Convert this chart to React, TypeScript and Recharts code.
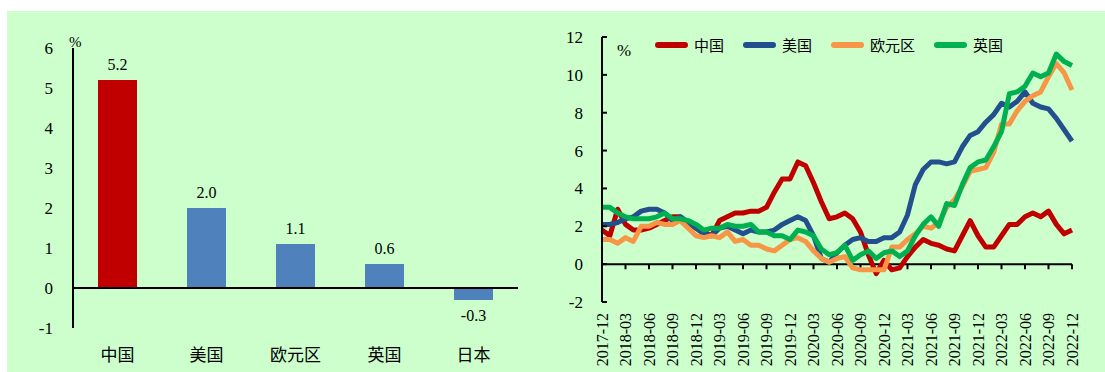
import React from 'react';
import {BarChart, Bar, Cell, XAxis, YAxis, ReferenceLine, LabelList, LineChart, Line} from 'recharts';

// left: bar chart
const countries = ['中国', '美国', '欧元区', '英国', '日本'];
const growth = [5.2, 2.0, 1.1, 0.6, -0.3];
const barColors = ['#c00000', '#4f81bd', '#4f81bd', '#4f81bd', '#4f81bd'];
const barTicks = [-1, 0, 1, 2, 3, 4, 5, 6];

// right: monthly CPI yoy
const months = [
	'2017-12',
	'2018-01', '2018-02', '2018-03', '2018-04', '2018-05', '2018-06', '2018-07', '2018-08', '2018-09', '2018-10', '2018-11', '2018-12',
	'2019-01', '2019-02', '2019-03', '2019-04', '2019-05', '2019-06', '2019-07', '2019-08', '2019-09', '2019-10', '2019-11', '2019-12',
	'2020-01', '2020-02', '2020-03', '2020-04', '2020-05', '2020-06', '2020-07', '2020-08', '2020-09', '2020-10', '2020-11', '2020-12',
	'2021-01', '2021-02', '2021-03', '2021-04', '2021-05', '2021-06', '2021-07', '2021-08', '2021-09', '2021-10', '2021-11', '2021-12',
	'2022-01', '2022-02', '2022-03', '2022-04', '2022-05', '2022-06', '2022-07', '2022-08', '2022-09', '2022-10', '2022-11', '2022-12',
];
const cnCpi = [
	1.8,
	1.5, 2.9, 2.1, 1.8, 1.8, 1.9, 2.1, 2.3, 2.5, 2.5, 2.2, 1.9,
	1.7, 1.5, 2.3, 2.5, 2.7, 2.7, 2.8, 2.8, 3.0, 3.8, 4.5, 4.5,
	5.4, 5.2, 4.3, 3.3, 2.4, 2.5, 2.7, 2.4, 1.7, 0.5, -0.5, 0.2,
	-0.3, -0.2, 0.4, 0.9, 1.3, 1.1, 1.0, 0.8, 0.7, 1.5, 2.3, 1.5,
	0.9, 0.9, 1.5, 2.1, 2.1, 2.5, 2.7, 2.5, 2.8, 2.1, 1.6, 1.8,
];
const usCpi = [
	2.1,
	2.1, 2.2, 2.4, 2.5, 2.8, 2.9, 2.9, 2.7, 2.3, 2.5, 2.2, 1.9,
	1.6, 1.5, 1.9, 2.0, 1.8, 1.6, 1.8, 1.7, 1.7, 1.8, 2.1, 2.3,
	2.5, 2.3, 1.5, 0.3, 0.1, 0.6, 1.0, 1.3, 1.4, 1.2, 1.2, 1.4,
	1.4, 1.7, 2.6, 4.2, 5.0, 5.4, 5.4, 5.3, 5.4, 6.2, 6.8, 7.0,
	7.5, 7.9, 8.5, 8.3, 8.6, 9.1, 8.5, 8.3, 8.2, 7.7, 7.1, 6.5,
];
const euCpi = [
	1.3,
	1.3, 1.1, 1.4, 1.2, 2.0, 2.0, 2.2, 2.1, 2.1, 2.3, 1.9, 1.5,
	1.4, 1.5, 1.4, 1.7, 1.2, 1.3, 1.0, 1.0, 0.8, 0.7, 1.0, 1.3,
	1.4, 1.2, 0.7, 0.3, 0.1, 0.3, 0.4, -0.2, -0.3, -0.3, -0.3, -0.3,
	0.9, 0.9, 1.3, 1.6, 2.0, 1.9, 2.2, 3.0, 3.4, 4.1, 4.9, 5.0,
	5.1, 5.9, 7.4, 7.4, 8.1, 8.6, 8.9, 9.1, 9.9, 10.6, 10.1, 9.2,
];
const ukCpi = [
	3.0,
	3.0, 2.7, 2.5, 2.4, 2.4, 2.4, 2.5, 2.7, 2.4, 2.4, 2.3, 2.1,
	1.8, 1.9, 1.9, 2.1, 2.0, 2.0, 2.1, 1.7, 1.7, 1.5, 1.5, 1.3,
	1.8, 1.7, 1.5, 0.8, 0.5, 0.6, 1.0, 0.2, 0.5, 0.7, 0.3, 0.6,
	0.7, 0.4, 0.7, 1.5, 2.1, 2.5, 2.0, 3.2, 3.1, 4.2, 5.1, 5.4,
	5.5, 6.2, 7.0, 9.0, 9.1, 9.4, 10.1, 9.9, 10.1, 11.1, 10.7, 10.5,
];
const lineTicks = [-2, 0, 2, 4, 6, 8, 10, 12];
const seriesNames = ['中国', '美国', '欧元区', '英国'];
const seriesColors = ['#c00000', '#234f8e', '#f79646', '#00b050'];
const seriesKeys = ['cn', 'us', 'eu', 'uk'];

const SERIF = '"Liberation Serif", "Times New Roman", serif';
const CJK = '"Noto Sans CJK SC", sans-serif';

const barData = countries.map((c, i) => ({name: c, value: growth[i]}));
const lineData = months.map((m, i) => ({month: m, cn: cnCpi[i], us: usCpi[i], eu: euCpi[i], uk: ukCpi[i]}));
const quarterTicks = months.filter((_, i) => i % 3 === 0);

function YTickInward(props: any) {
	const {x, y, payload} = props;
	return (
		<g>
			<line x1={x + 19} x2={x + 24} y1={y} y2={y} stroke='#000' strokeWidth={2}/>
			<text x={x} y={y} dy='0.35em' textAnchor='end' style={{fontSize: 17, fontFamily: SERIF}} fill='#000'>
				{payload.value}
			</text>
		</g>
	);
}

function BarYTick(props: any) {
	const {x, y, payload} = props;
	return (
		<text x={x} y={y} dy='0.35em' textAnchor='end' style={{fontSize: 17, fontFamily: SERIF}} fill='#000'>
			{payload.value}
		</text>
	);
}

function CountryTick(props: any) {
	const {x, y, payload} = props;
	return (
		<text x={x} y={y} dy='0.85em' textAnchor='middle' style={{fontSize: 17, fontFamily: CJK}} fill='#000'>
			{payload.value}
		</text>
	);
}

function MonthTick(props: any) {
	const {x, y, payload} = props;
	return (
		<text x={x} y={y} dy='0.35em' textAnchor='end' transform={`rotate(-90, ${x}, ${y})`}
			style={{fontSize: 16, fontFamily: SERIF}} fill='#000'>
			{payload.value}
		</text>
	);
}

export default function App() {
	return (
		<div style={{position: 'absolute', left: 0, top: 0, width: 1105, height: 372, background: '#fff', overflow: 'hidden'}}>
			<div style={{position: 'absolute', left: 7, top: 11, width: 1098, height: 361, background: '#ccffcc'}}/>

			<div style={{position: 'absolute', left: 0, top: 0}}>
				<BarChart width={530} height={372} data={barData} margin={{top: 48, right: 12, bottom: 0, left: 0}}>
					<XAxis dataKey='name' axisLine={false} tickLine={false} tickSize={0} tickMargin={19} height={44}
						tick={<CountryTick/>} interval={0}/>
					<YAxis width={73} domain={[-1, 6]} ticks={barTicks} allowDataOverflow
						axisLine={{stroke: '#000', strokeWidth: 2}} tickLine={false} tickSize={0} tickMargin={20}
						tick={<BarYTick/>}/>
					<Bar dataKey='value' barSize={39} isAnimationActive={false}>
						{barData.map((d, i) => <Cell key={d.name} fill={barColors[i]}/>)}
						<LabelList dataKey='value' position='top' offset={10} fill='#000'
							style={{fontSize: 16, fontFamily: SERIF}}
							formatter={(v: any) => Number(v).toFixed(1)}/>
					</Bar>
					<ReferenceLine y={0} stroke='#000' strokeWidth={2}/>
				</BarChart>
			</div>
			<div style={{position: 'absolute', left: 69, top: 34, fontSize: 15, fontFamily: SERIF}}>%</div>

			<div style={{position: 'absolute', left: 530, top: 0}}>
				<LineChart width={575} height={372} data={lineData} margin={{top: 37, right: 33, bottom: 0, left: 0}}>
					<XAxis dataKey='month' interval={2} axisLine={false} tickLine={false} tickSize={0} tickMargin={11}
						height={70} tick={<MonthTick/>}/>
					<YAxis width={72} domain={[-2, 12]} ticks={lineTicks} allowDataOverflow
						axisLine={{stroke: '#000', strokeWidth: 2}} tickLine={false} tickSize={0} tickMargin={19}
						tick={<YTickInward/>}/>
					<ReferenceLine y={0} stroke='#000' strokeWidth={2}/>
					{quarterTicks.map((m) => (
						<ReferenceLine key={m} segment={[{x: m, y: 0}, {x: m, y: -0.27}]} stroke='#000' strokeWidth={2}/>
					))}
					{seriesKeys.map((k, i) => (
						<Line key={k} type='linear' dataKey={k} name={seriesNames[i]} stroke={seriesColors[i]}
							strokeWidth={5} dot={false} strokeLinejoin='round' isAnimationActive={false}/>
					))}
				</LineChart>
			</div>
			<div style={{position: 'absolute', left: 617, top: 41, fontSize: 17, fontFamily: SERIF}}>%</div>
			<div style={{position: 'absolute', left: 655, top: 35, height: 20, display: 'flex', alignItems: 'center', gap: 19}}>
				{seriesNames.map((n, i) => (
					<div key={n} style={{display: 'flex', alignItems: 'center'}}>
						<div style={{width: 33, height: 6, borderRadius: 3, background: seriesColors[i], marginRight: 6}}/>
						<span style={{fontSize: 15, fontFamily: CJK, lineHeight: '20px'}}>{n}</span>
					</div>
				))}
			</div>
		</div>
	);
}
